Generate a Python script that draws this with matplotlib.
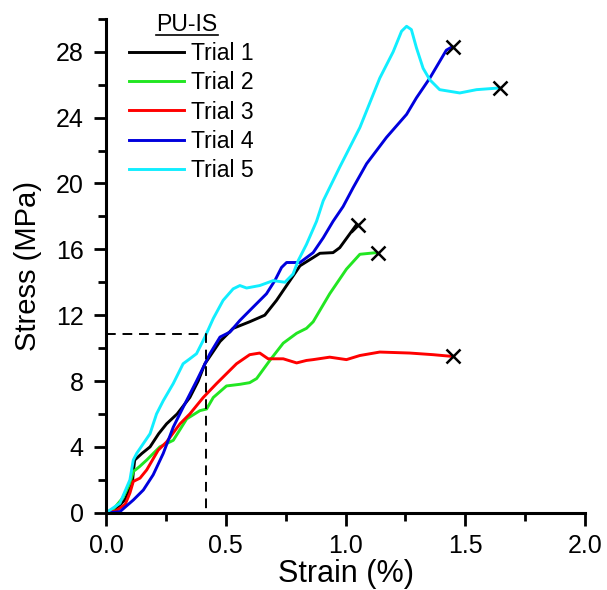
import numpy as np
import matplotlib.pyplot as plt
from matplotlib.ticker import MultipleLocator

plt.rcParams['font.family'] = ['Liberation Sans', 'DejaVu Sans']

# strain (%) / stress (MPa)
t1_x = [0, 0.04, 0.08, 0.11, 0.115, 0.12, 0.15, 0.184, 0.22, 0.253, 0.297, 0.35, 0.385, 0.413,
        0.476, 0.531, 0.6, 0.663, 0.712, 0.768, 0.81, 0.865, 0.893, 0.948, 0.976, 1.046]
t1_y = [0, 0.2, 0.8, 1.8, 2.6, 3.2, 3.6, 4.0, 4.8, 5.4, 6.0, 7.0, 8.0, 9.05,
        10.4, 11.2, 11.6, 12.0, 12.9, 14.1, 15.0, 15.5, 15.76, 15.8, 16.1, 17.5]

t2_x = [0, 0.03, 0.07, 0.1, 0.114, 0.14, 0.17, 0.225, 0.281, 0.337, 0.392, 0.42, 0.448, 0.503,
        0.559, 0.6, 0.629, 0.684, 0.74, 0.796, 0.837, 0.865, 0.934, 1.004, 1.06, 1.129]
t2_y = [0, 0.2, 0.9, 1.8, 2.5, 2.8, 3.2, 4.0, 4.4, 5.7, 6.2, 6.3, 7.0, 7.7,
        7.8, 7.9, 8.15, 9.25, 10.3, 10.9, 11.2, 11.6, 13.3, 14.8, 15.7, 15.8]

t3_x = [0, 0.04, 0.08, 0.1, 0.114, 0.142, 0.17, 0.218, 0.253, 0.309, 0.35, 0.406, 0.462, 0.545,
        0.6, 0.642, 0.677, 0.74, 0.796, 0.837, 0.865, 0.934, 1.004, 1.06, 1.143, 1.268, 1.366, 1.442]
t3_y = [0, 0.1, 0.5, 1.2, 1.9, 2.1, 2.6, 3.8, 4.3, 5.4, 6.0, 7.0, 7.85, 9.05,
        9.6, 9.7, 9.35, 9.35, 9.1, 9.25, 9.3, 9.45, 9.3, 9.55, 9.76, 9.7, 9.6, 9.5]

t4_x = [0, 0.017, 0.058, 0.114, 0.156, 0.197, 0.239, 0.281, 0.322, 0.378, 0.434, 0.476, 0.517,
        0.559, 0.615, 0.67, 0.705, 0.733, 0.754, 0.81, 0.865, 0.907, 0.948, 0.99, 1.032, 1.088,
        1.171, 1.255, 1.296, 1.352, 1.421, 1.445]
t4_y = [0, 0, 0.06, 0.77, 1.38, 2.3, 3.6, 5.2, 6.4, 8.0, 9.66, 10.67, 10.97,
        11.68, 12.5, 13.3, 14.1, 14.9, 15.2, 15.2, 15.8, 16.7, 17.7, 18.6, 19.75, 21.2,
        22.8, 24.2, 25.2, 26.4, 28.1, 28.3]

t5_x = [0, 0.058, 0.1, 0.114, 0.128, 0.156, 0.184, 0.211, 0.239, 0.281, 0.322, 0.35, 0.378,
        0.413, 0.448, 0.489, 0.531, 0.559, 0.587, 0.642, 0.698, 0.747, 0.781, 0.802, 0.837,
        0.879, 0.907, 0.976, 1.06, 1.143, 1.199, 1.234, 1.255, 1.275, 1.296, 1.324, 1.352,
        1.393, 1.477, 1.547, 1.64]
t5_y = [0, 0.57, 2.0, 3.2, 3.6, 4.2, 4.8, 6.0, 6.8, 7.85, 9.05, 9.35, 9.66,
        10.67, 11.8, 12.9, 13.6, 13.8, 13.65, 13.8, 14.1, 14.0, 14.5, 15.3, 16.3,
        17.7, 18.95, 21.0, 23.4, 26.4, 28.0, 29.25, 29.55, 29.35, 28.25, 27.0, 26.3,
        25.7, 25.5, 25.7, 25.8]

labels = ['Trial 1', 'Trial 2', 'Trial 3', 'Trial 4', 'Trial 5']
colors = ['#000000', '#22e622', '#ff0000', '#0000dd', '#11eeff']
xs = [t1_x, t2_x, t3_x, t4_x, t5_x]
ys = [t1_y, t2_y, t3_y, t4_y, t5_y]

# yield guide
yield_strain = 0.416
yield_stress = 10.85

fig = plt.figure(figsize=(6.07, 5.90), dpi=100)
ax = fig.add_axes([0.1746, 0.131, 0.7892, 0.837])

for x, y, c, lab in zip(xs, ys, colors, labels):
    ax.plot(x, y, color=c, lw=2.1, label=lab)

# failure points
for x, y in zip(xs, ys):
    ax.plot(x[-1] + 0.005, y[-1], marker='x', color='black', ms=10, mew=1.8, ls='none')

ax.plot([0, yield_strain, yield_strain], [yield_stress, yield_stress, 0],
        color='black', lw=1.4, ls=(0, (5, 3.5)))

ax.set_xlim(0, 2.0)
ax.set_ylim(0, 30)
ax.xaxis.set_minor_locator(MultipleLocator(0.25))
ax.yaxis.set_minor_locator(MultipleLocator(2))
ax.set_yticks(np.arange(0, 29, 4))
ax.set_xticks([0, 0.5, 1.0, 1.5, 2.0])
ax.set_xticklabels(['0.0', '0.5', '1.0', '1.5', '2.0'])

for s in ['top', 'right']:
    ax.spines[s].set_visible(False)
for s in ['left', 'bottom']:
    ax.spines[s].set_linewidth(2.2)
ax.tick_params(which='major', direction='out', length=9, width=2, labelsize=18)
ax.tick_params(axis='y', which='major', pad=7)
ax.tick_params(axis='x', which='major', pad=6)
ax.tick_params(which='minor', direction='out', length=5.5, width=2)

ax.set_xlabel('Strain (%)', fontsize=22, labelpad=1)
ax.set_ylabel('Stress (MPa)', fontsize=21, labelpad=10)

leg = ax.legend(loc='upper left', bbox_to_anchor=(0.005, 0.995), frameon=False, fontsize=16.6,
                handlelength=2.4, handletextpad=0.3, labelspacing=0.27)
title = ax.text(0.169, 0.988, 'PU-IS', transform=ax.transAxes, ha='center', va='center',
                fontsize=16.6)
fig.canvas.draw()
bb = title.get_window_extent().transformed(fig.transFigure.inverted())
fig.add_artist(plt.Line2D([bb.x0, bb.x1], [bb.y0 + 0.002, bb.y0 + 0.002],
                          transform=fig.transFigure, color='black', lw=1.2))

fig.savefig('out.png', dpi=100)
